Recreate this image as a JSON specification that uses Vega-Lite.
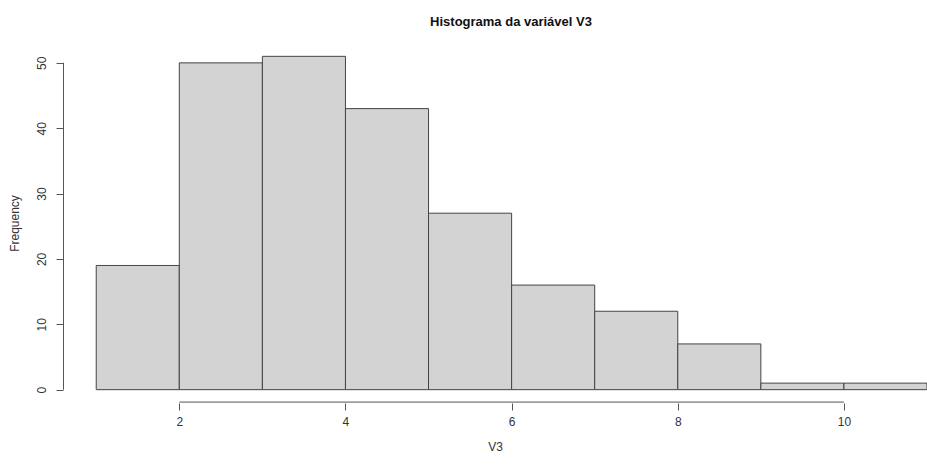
{
  "$schema": "https://vega.github.io/schema/vega-lite/v6.json",
  "autosize": "none",
  "width": 864,
  "height": 360,
  "padding": {"left": 63, "top": 43, "right": 0, "bottom": 64},
  "background": "white",
  "title": {"text": "Histograma da variável V3", "fontSize": 13, "fontWeight": "bold", "font": "Liberation Sans", "color": "#111", "anchor": "middle", "dx": 16, "offset": 14},
  "config": {"view": {"stroke": null}, "font": "Liberation Sans"},
  "layer": [
    {
      "data": {"values": [
        {"start": 1, "end": 2, "count": 19},
        {"start": 2, "end": 3, "count": 50},
        {"start": 3, "end": 4, "count": 51},
        {"start": 4, "end": 5, "count": 43},
        {"start": 5, "end": 6, "count": 27},
        {"start": 6, "end": 7, "count": 16},
        {"start": 7, "end": 8, "count": 12},
        {"start": 8, "end": 9, "count": 7},
        {"start": 9, "end": 10, "count": 1},
        {"start": 10, "end": 11, "count": 1}
      ]},
      "mark": {"type": "rect", "fill": "#d3d3d3", "stroke": "#444", "strokeWidth": 1},
      "encoding": {
        "x": {"field": "start", "type": "quantitative", "scale": {"domain": [0.6, 11.0], "nice": false, "zero": false},
          "axis": {"values": [2, 4, 6, 8, 10], "format": "d", "domain": false, "grid": false, "tickColor": "#555", "tickSize": 7, "labelFontSize": 12, "labelColor": "#333", "labelPadding": 6, "title": "V3", "titleFontSize": 12, "titleFontWeight": "normal", "titleColor": "#333", "titlePadding": 14}},
        "x2": {"field": "end"},
        "y": {"field": "count", "type": "quantitative", "scale": {"domain": [-2.04, 53.04], "nice": false, "zero": false},
          "axis": {"values": [0, 10, 20, 30, 40, 50], "format": "d", "domain": false, "grid": false, "tickColor": "#555", "tickSize": 7, "labelFontSize": 12, "labelColor": "#333", "labelAngle": -90, "labelAlign": "center", "labelBaseline": "bottom", "labelPadding": 8, "title": "Frequency", "titleFontSize": 12, "titleFontWeight": "normal", "titleColor": "#333", "titlePadding": 14}},
        "y2": {"datum": 0}
      }
    },
    {
      "data": {"values": [{"xa": 2, "xb": 10, "yv": -1.9}]},
      "mark": {"type": "rule", "color": "#555", "strokeWidth": 1},
      "encoding": {
        "x": {"field": "xa", "type": "quantitative"},
        "x2": {"field": "xb"},
        "y": {"field": "yv", "type": "quantitative"}
      }
    },
    {
      "data": {"values": [{"xa": 0.6, "xb": 0.612, "ya": 0, "yb": 50}]},
      "mark": {"type": "rect", "fill": "#555"},
      "encoding": {
        "x": {"field": "xa", "type": "quantitative"},
        "x2": {"field": "xb"},
        "y": {"field": "ya", "type": "quantitative"},
        "y2": {"field": "yb"}
      }
    }
  ]
}
